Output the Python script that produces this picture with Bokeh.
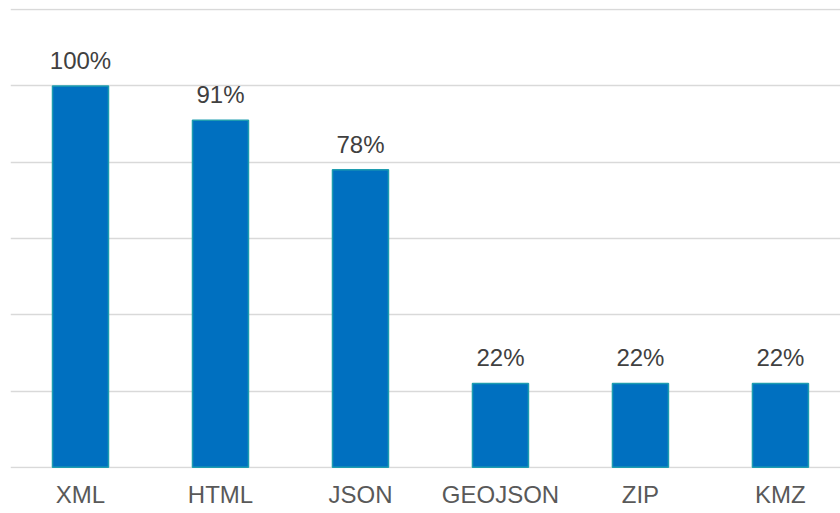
from bokeh.plotting import figure
from bokeh.models import ColumnDataSource, LabelSet, FixedTicker, Range1d
from bokeh.core.properties import value
from bokeh.embed import file_html
from bokeh.resources import INLINE

categories = ["XML", "HTML", "JSON", "GEOJSON", "ZIP", "KMZ"]
values = [100, 91, 78, 22, 22, 22]
grid_ticks = [0, 20, 40, 60, 80, 100, 120]

xs = list(range(len(categories)))
src = ColumnDataSource(dict(x=xs, top=values, label=[f"{v}%" for v in values]))

p = figure(width=840, height=513, output_backend="svg", toolbar_location=None,
           x_range=Range1d(-0.5, 5.429), y_range=Range1d(-0.3, 120.3),
           min_border_left=10, min_border_right=0, min_border_top=8, min_border_bottom=45)
p.outline_line_color = None
p.background_fill_color = "white"
p.border_fill_color = "white"

p.vbar(x="x", top="top", width=0.4, bottom=0, source=src,
       fill_color="#0070c0", line_color="#1e9db0", line_width=1.5)

labels = LabelSet(x="x", y="top", text="label", source=src, text_align="center",
                  text_baseline="alphabetic", y_offset=17,
                  text_font=value("Liberation Sans"), text_font_size="24px",
                  text_color="#404040")
p.add_layout(labels)

p.yaxis.visible = False
p.xgrid.visible = False
p.ygrid.ticker = FixedTicker(ticks=grid_ticks)
p.ygrid.grid_line_color = "#d9d9d9"
p.ygrid.grid_line_width = 1.5

ax = p.xaxis[0]
ax.ticker = FixedTicker(ticks=xs)
ax.major_label_overrides = {i: c for i, c in enumerate(categories)}
ax.axis_line_color = None
ax.major_tick_line_color = None
ax.minor_tick_line_color = None
ax.major_label_standoff = 6
ax.major_label_text_font = "Liberation Sans"
ax.major_label_text_font_size = "24px"
ax.major_label_text_color = "#595959"

open("out.html", "w").write(file_html(p, INLINE))
